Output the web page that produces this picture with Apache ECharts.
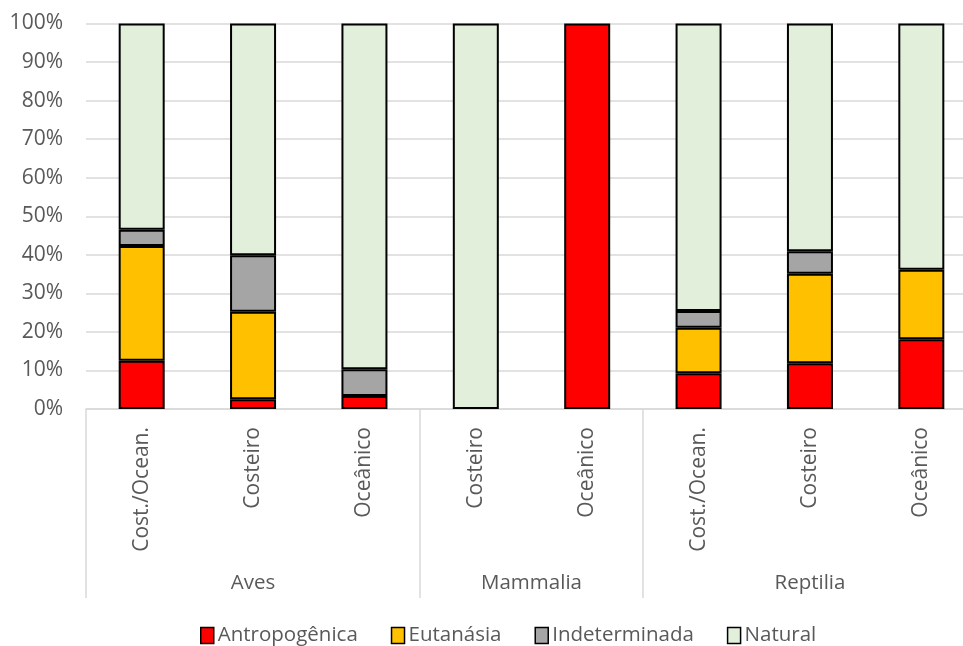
<!DOCTYPE html>
<html>
<head>
<meta charset="utf-8">
<script src="https://cdn.jsdelivr.net/npm/echarts@6/dist/echarts.min.js"></script>
<style>
  html, body { margin: 0; padding: 0; background: #fff; }
  #chart { width: 963px; height: 646px; }
</style>
</head>
<body>
<div id="chart"></div>
<script>
// Habitat categories within each taxonomic group
const categories = ['Cost./Ocean.', 'Costeiro', 'Oceânico', 'Costeiro', 'Oceânico', 'Cost./Ocean.', 'Costeiro', 'Oceânico'];
const groups = ['Aves', 'Mammalia', 'Reptilia'];
const groupSizes = [3, 2, 3];

// Share of each cause of death (%)
const antropogenica = [12.5, 2.5, 3.4, 0, 100, 9.3, 11.9, 18.1];
const eutanasia     = [29.8, 22.7, 0, 0, 0, 11.8, 23.2, 18.0];
const indeterminada = [4.2, 14.7, 6.9, 0, 0, 4.3, 5.8, 0];
const natural       = [53.5, 60.1, 89.7, 100, 0, 74.6, 59.1, 63.9];

const seriesNames = ['Antropogênica', 'Eutanásia', 'Indeterminada', 'Natural'];
const seriesColors = ['#FF0000', '#FFC000', '#A5A5A5', '#E2EFDA'];
const seriesData = [antropogenica, eutanasia, indeterminada, natural];

// Group boundaries and centres on a 0..N scale for the second axis level
const bounds = [0];
groupSizes.forEach(s => bounds.push(bounds[bounds.length - 1] + s));
const centres = groupSizes.map((s, i) => bounds[i] + s / 2);

const FONT = 'Open Sans';
const chart = echarts.init(document.getElementById('chart'));

chart.setOption({
  animation: false,
  backgroundColor: '#ffffff',
  // the plot runs a little past the right edge of the canvas
  grid: { left: 86, top: 23.5, width: 891, bottom: 237, containLabel: false, outerBoundsMode: 'none' },
  legend: {
    bottom: -5,
    left: 195,
    itemWidth: 13,
    itemHeight: 16,
    itemGap: 33,
    icon: 'rect',
    data: seriesNames,
    itemStyle: { borderColor: '#000000', borderWidth: 1.5 },
    textStyle: { fontFamily: FONT, fontSize: 20.5, color: '#595959', padding: [0, 0, 0, -1] }
  },
  xAxis: [
    {
      type: 'category',
      data: categories,
      position: 'bottom',
      axisLine: { show: true, lineStyle: { color: '#d9d9d9', width: 1.5 } },
      axisTick: { show: false },
      axisLabel: {
        rotate: 90,
        margin: 18,
        interval: 0,
        fontFamily: FONT,
        fontSize: 21,
        color: '#595959'
      }
    },
    {
      type: 'value',
      min: 0,
      max: categories.length,
      position: 'bottom',
      axisLine: { show: false },
      splitLine: { show: false },
      axisTick: {
        show: true,
        customValues: bounds,
        length: 189,
        lineStyle: { color: '#d9d9d9', width: 1.5 }
      },
      axisLabel: {
        show: true,
        customValues: centres,
        margin: 164,
        fontFamily: FONT,
        fontSize: 20.5,
        color: '#595959',
        formatter: v => {
          const i = centres.indexOf(v);
          return i >= 0 ? groups[i] : '';
        }
      }
    }
  ],
  yAxis: {
    type: 'value',
    min: 0,
    max: 100,
    interval: 10,
    axisLine: { show: false },
    axisTick: { show: false },
    splitLine: { lineStyle: { color: '#d9d9d9', width: 1.5 } },
    axisLabel: {
      formatter: '{value}%',
      margin: 23,
      fontFamily: FONT,
      fontSize: 21,
      color: '#595959'
    }
  },
  series: seriesNames.map((name, i) => ({
    name,
    type: 'bar',
    stack: 'total',
    xAxisIndex: 0,
    barWidth: 46,
    // empty segments are left out so they draw no outline
    data: seriesData[i].map(v => (v === 0 ? '-' : v)),
    itemStyle: { color: seriesColors[i], borderColor: '#000000', borderWidth: 2 }
  }))
});
</script>
</body>
</html>
